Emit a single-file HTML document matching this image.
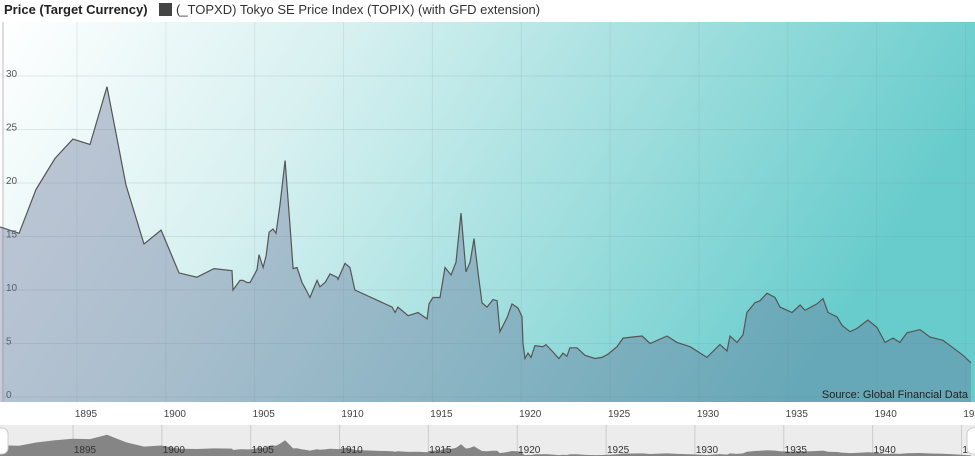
<!DOCTYPE html>
<html><head><meta charset="utf-8"><style>
body{margin:0;width:975px;height:456px;overflow:hidden;background:#fff;font-family:"Liberation Sans",sans-serif}
</style></head><body>
<svg width="975" height="456" xmlns="http://www.w3.org/2000/svg">
<defs>
<linearGradient id="bg" x1="0" y1="0" x2="1" y2="0.25">
<stop offset="0" stop-color="#ffffff"/><stop offset="0.35" stop-color="#d6f0f0"/><stop offset="1" stop-color="#68cccc"/>
</linearGradient>
</defs>
<text x="4" y="14" font-size="13" font-weight="bold" fill="#222">Price (Target Currency)</text>
<rect x="159" y="3" width="13" height="13" fill="#444"/>
<text x="176" y="14" font-size="13" fill="#333">(_TOPXD) Tokyo SE Price Index (TOPIX) (with GFD extension)</text>
<rect x="3" y="22" width="972" height="380" fill="url(#bg)"/>
<line x1="3" y1="22" x2="3" y2="402" stroke="#ddd" stroke-width="2"/>
<g id="grid"></g>
<g id="series"></g>
<text x="968" y="398" font-size="11" fill="#222" text-anchor="end">Source: Global Financial Data</text>
<g id="xlabels"></g>
<rect x="0" y="425" width="975" height="31" fill="#ececec"/>
<g id="nav"></g>
<rect x="-6" y="428" width="14" height="26" rx="6" fill="#fff" stroke="#ccc"/>
<rect x="967" y="428" width="14" height="26" rx="6" fill="#fff" stroke="#ccc"/>
</svg>
<script>
const years=[1890.67,1891.74,1892.69,1893.76,1894.77,1895.73,1896.69,1897.76,1898.77,1899.73,1900.74,1901.75,1902.71,1903.72,1903.78,1904.17,1904.34,1904.57,1904.74,1905.13,1905.24,1905.47,1905.64,1905.81,1906.03,1906.2,1906.42,1906.71,1906.99,1907.16,1907.38,1907.66,1907.83,1908.11,1908.28,1908.51,1908.67,1908.96,1909.24,1909.63,1909.69,1910.08,1910.36,1910.64,1912.73,1912.9,1913.06,1913.63,1914.19,1914.7,1914.81,1915.03,1915.43,1915.71,1916.05,1916.33,1916.61,1916.89,1917.12,1917.34,1917.57,1917.79,1918.07,1918.41,1918.64,1918.8,1919.2,1919.48,1919.82,1920.04,1920.1,1920.21,1920.38,1920.55,1920.77,1921.22,1921.39,1921.79,1922.12,1922.35,1922.57,1922.74,1923.14,1923.59,1924.15,1924.54,1924.88,1925.39,1925.73,1926.23,1926.8,1927.25,1928.2,1928.76,1929.5,1930.45,1931.18,1931.58,1931.75,1932.14,1932.48,1932.7,1933.15,1933.44,1933.83,1934.28,1934.56,1935.24,1935.69,1935.97,1936.64,1936.98,1937.26,1937.77,1938.05,1938.5,1938.89,1939.51,1940.02,1940.47,1940.92,1941.31,1941.71,1942.44,1943.0,1943.73,1944.3,1944.86,1945.31];
const prices=[15.9,15.3,19.4,22.3,24.1,23.6,29.0,19.8,14.3,15.6,11.6,11.2,12.0,11.8,10.0,10.9,10.9,10.7,10.7,11.9,13.3,12.1,13.2,15.4,15.7,15.3,17.9,22.1,15.9,12.0,12.1,10.7,10.2,9.3,10.0,10.9,10.3,10.7,11.5,11.2,11.0,12.5,12.1,10.0,8.4,7.9,8.4,7.6,7.9,7.3,8.7,9.3,9.3,12.1,11.4,12.6,17.2,11.7,12.6,14.8,11.6,8.8,8.4,9.1,9.0,6.1,7.4,8.7,8.3,7.5,5.0,3.6,4.1,3.7,4.8,4.7,4.9,4.2,3.6,4.1,3.8,4.6,4.6,3.9,3.6,3.7,4.0,4.7,5.5,5.6,5.7,5.0,5.7,5.1,4.7,3.7,4.9,4.3,5.7,5.1,5.8,7.9,8.8,9.0,9.7,9.3,8.4,7.9,8.6,8.1,8.7,9.2,7.9,7.5,6.7,6.1,6.4,7.2,6.5,5.1,5.5,5.1,6.0,6.3,5.6,5.3,4.6,3.9,3.2];
const yTicks=[0,5,10,15,20,25,30];
const xTicks=[1895,1900,1905,1910,1915,1920,1925,1930,1935,1940,1945];
const NS='http://www.w3.org/2000/svg';
const X=y=>77+(y-1895)*17.77;
const Y=v=>397-v*10.7;
const NY=v=>458-v*0.8;
function mk(t,a,p){const e=document.createElementNS(NS,t);for(const k in a)e.setAttribute(k,a[k]);p.appendChild(e);return e;}
const grid=document.getElementById('grid'),ser=document.getElementById('series'),xl=document.getElementById('xlabels'),nav=document.getElementById('nav');
yTicks.forEach(t=>{
 const l=mk('line',{x1:3,x2:975,y1:Y(t),y2:Y(t),stroke:'rgba(120,140,150,0.18)'},grid);
 
 
 const tx=mk('text',{x:6,y:Y(t)+1,'font-size':10,fill:'#555'},grid);tx.textContent=t;
 
 
});
xTicks.forEach(t=>{
 const l=mk('line',{x1:X(t),x2:X(t),y1:22,y2:402,stroke:'rgba(120,140,150,0.15)'},grid);
 
 
 const tx=mk('text',{x:X(t)+9,y:417,'font-size':10,fill:'#444','text-anchor':'middle'},xl);tx.textContent=t;
 
 
 const nl=mk('line',{x1:X(t)-4,x2:X(t)-4,y1:425,y2:456,stroke:'#ccc'},nav);
 
 
});
let d='',nd='';
years.forEach((y,i)=>{d+=(i?'L':'M')+X(y).toFixed(1)+','+Y(prices[i]).toFixed(1);nd+=(i?'L':'M')+X(y).toFixed(1)+','+NY(prices[i]).toFixed(1);});
const area=mk('path',{d:d+'L'+X(years[years.length-1])+',402L'+X(years[0])+',402Z',fill:'rgb(100,110,150)','fill-opacity':0.38},ser);


const line=mk('path',{d:d,fill:'none',stroke:'#555','stroke-width':1.2},ser);


const na=mk('path',{d:nd+'L'+X(years[years.length-1])+',456L'+X(years[0])+',456Z',fill:'#858585'},nav);


xTicks.forEach(t=>{
 const tx=mk('text',{x:X(t)+8,y:453,'font-size':10,fill:'#333','text-anchor':'middle'},nav);tx.textContent=t;
 
 
});
</script>
</body></html>
